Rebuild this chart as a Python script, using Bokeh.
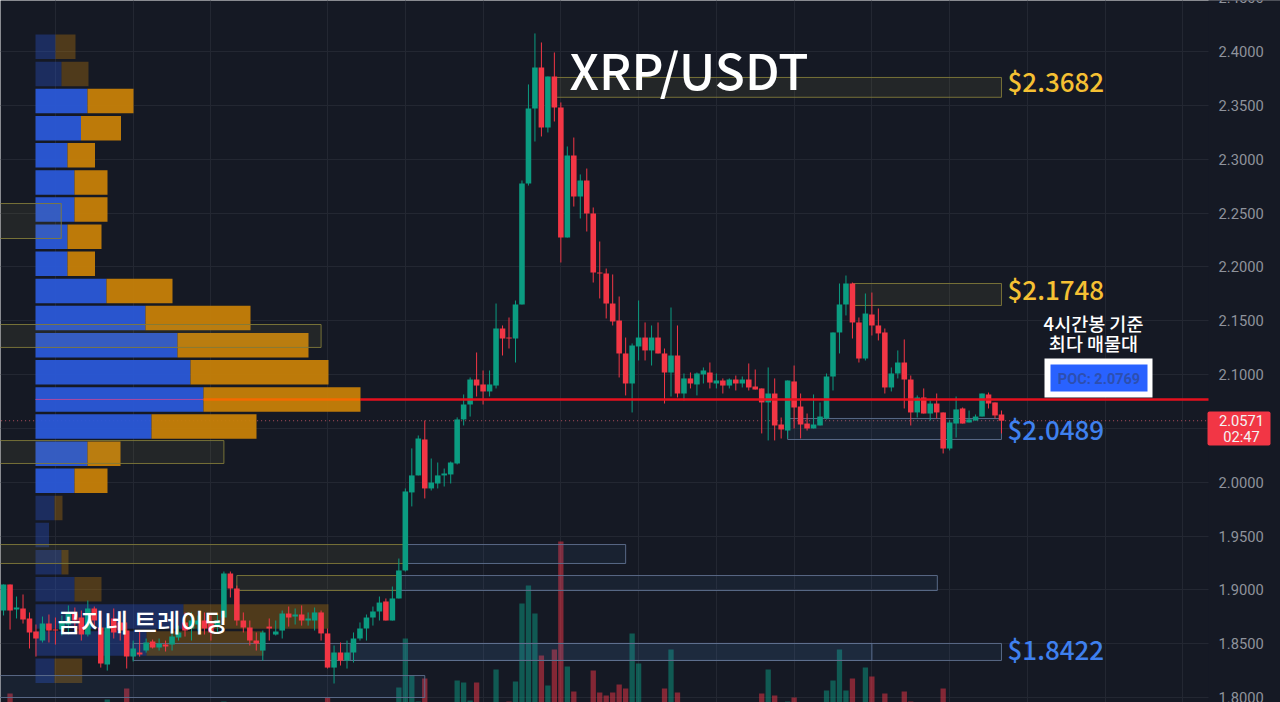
from bokeh.plotting import figure
from bokeh.models import Range1d, LinearAxis, FixedTicker, NumeralTickFormatter
from bokeh.core.properties import value
from bokeh.embed import file_html
from bokeh.resources import INLINE

BG = "#151924"
UP = "#0b9c81"
DOWN = "#f23645"
FONT_KR = "Noto Sans CJK KR"
FONT_MED = "Noto Sans CJK KR Medium"
FONT_NUM = "Roboto"

# candles: [open, high, low, close]
candles = [
 [1.8808,1.9050,1.8762,1.9050],[1.9050,1.9050,1.8631,1.8808],[1.8817,1.8938,1.8734,1.8836],[1.8827,1.8957,1.8687,1.8724],
 [1.8734,1.8790,1.8455,1.8604],[1.8613,1.8678,1.8380,1.8548],[1.8529,1.8752,1.8511,1.8687],[1.8687,1.8771,1.8511,1.8622],
 [1.8631,1.8743,1.8492,1.8622],[1.8631,1.8762,1.8576,1.8696],[1.8678,1.8855,1.8585,1.8790],[1.8780,1.8836,1.8622,1.8715],
 [1.8743,1.8808,1.8529,1.8585],[1.8585,1.8901,1.8567,1.8827],[1.8827,1.8845,1.8641,1.8715],[1.8650,1.8734,1.8278,1.8315],
 [1.8306,1.8697,1.8250,1.8650],[1.8734,1.8827,1.8548,1.8604],[1.8697,1.8762,1.8529,1.8622],[1.8622,1.8697,1.8269,1.8380],
 [1.8380,1.8529,1.8334,1.8455],[1.8417,1.8622,1.8380,1.8399],[1.8436,1.8548,1.8417,1.8511],[1.8520,1.8538,1.8455,1.8464],
 [1.8464,1.8548,1.8436,1.8501],[1.8492,1.8529,1.8427,1.8473],[1.8492,1.8622,1.8436,1.8566],[1.8557,1.8668,1.8529,1.8604],
 [1.8697,1.8790,1.8566,1.8622],[1.8641,1.8790,1.8529,1.8715],[1.8678,1.8762,1.8622,1.8715],[1.8715,1.8790,1.8585,1.8641],
 [1.8687,1.8762,1.8529,1.8604],[1.8659,1.8771,1.8604,1.8715],[1.8743,1.9170,1.8715,1.9152],[1.9152,1.9170,1.8929,1.9012],
 [1.9012,1.9040,1.8668,1.8715],[1.8715,1.8790,1.8604,1.8650],[1.8650,1.8715,1.8483,1.8529],[1.8529,1.8604,1.8436,1.8501],
 [1.8436,1.8622,1.8343,1.8604],[1.8659,1.8734,1.8529,1.8641],[1.8585,1.8715,1.8576,1.8613],[1.8622,1.8808,1.8548,1.8780],
 [1.8780,1.8845,1.8659,1.8743],[1.8752,1.8827,1.8678,1.8771],[1.8771,1.8855,1.8668,1.8715],[1.8715,1.8790,1.8668,1.8734],
 [1.8715,1.8836,1.8622,1.8790],[1.8790,1.8808,1.8529,1.8595],[1.8595,1.8641,1.8269,1.8278],[1.8278,1.8483,1.8130,1.8418],
 [1.8418,1.8511,1.8297,1.8343],[1.8343,1.8529,1.8269,1.8418],[1.8418,1.8604,1.8325,1.8548],[1.8548,1.8697,1.8529,1.8641],
 [1.8641,1.8771,1.8529,1.8743],[1.8743,1.8845,1.8668,1.8799],[1.8799,1.8938,1.8715,1.8882],[1.8892,1.8920,1.8715,1.8715],
 [1.8715,1.9031,1.8715,1.8920],[1.8920,1.9291,1.8920,1.9180],[1.9180,1.9942,1.9170,1.9914],[1.9905,2.0314,1.9775,2.0063],
 [2.0063,2.0434,2.0063,2.0406],[2.0397,2.0573,1.9849,1.9942],[1.9942,2.0220,1.9923,1.9997],[1.9988,2.0183,1.9942,2.0063],
 [2.0063,2.0127,1.9960,2.0081],[2.0072,2.0192,1.9988,2.0183],[2.0174,2.0602,2.0165,2.0583],[2.0583,2.0815,2.0527,2.0722],
 [2.0722,2.0973,2.0610,2.0954],[2.0954,2.1205,2.0796,2.0898],[2.0908,2.1038,2.0722,2.0843],[2.0843,2.1038,2.0796,2.0908],
 [2.0898,2.1660,2.0871,2.1428],[2.1428,2.1456,2.1177,2.1335],[2.1344,2.1530,2.1242,2.1335],[2.1335,2.1688,2.1112,2.1651],
 [2.1651,2.2803,2.1651,2.2775],[2.2775,2.3695,2.2756,2.3472],[2.3472,2.4169,2.3165,2.3853],[2.3853,2.4085,2.3212,2.3295],
 [2.3295,2.3769,2.3249,2.3769],[2.3769,2.3992,2.3351,2.3481],[2.3481,2.3528,2.2041,2.2273],[2.2273,2.3119,2.2273,2.3035],
 [2.3035,2.3202,2.2561,2.2654],[2.2654,2.2859,2.2450,2.2803],[2.2803,2.2914,2.2329,2.2496],[2.2496,2.2552,2.1855,2.1948],
 [2.1948,2.2236,2.1707,2.1939],[2.1939,2.1985,2.1521,2.1660],[2.1660,2.1930,2.1456,2.1493],[2.1502,2.1725,2.0973,2.1196],
 [2.1196,2.1344,2.0806,2.0917],[2.0917,2.1289,2.0648,2.1270],[2.1261,2.1688,2.1131,2.1344],[2.1344,2.1484,2.1131,2.1224],
 [2.1224,2.1456,2.1084,2.1344],[2.1344,2.1484,2.1196,2.1196],[2.1196,2.1242,2.0731,2.1019],[2.1019,2.1623,2.0796,2.1177],
 [2.1177,2.1456,2.0787,2.0824],[2.0824,2.1010,2.0759,2.0964],[2.0964,2.1019,2.0871,2.0917],[2.0908,2.1019,2.0806,2.1010],
 [2.1001,2.1066,2.0917,2.1038],[2.1019,2.1112,2.0871,2.0926],[2.0917,2.1010,2.0871,2.0945],[2.0945,2.0964,2.0824,2.0898],
 [2.0898,2.0964,2.0871,2.0954],[2.0954,2.0991,2.0852,2.0917],[2.0917,2.0982,2.0880,2.0954],[2.0954,2.1103,2.0852,2.0880],
 [2.0889,2.1047,2.0861,2.0861],[2.0871,2.0871,2.0453,2.0741],[2.0741,2.1066,2.0388,2.0824],[2.0824,2.0964,2.0388,2.0527],
 [2.0536,2.0601,2.0406,2.0490],[2.0480,2.0945,2.0406,2.0945],[2.0936,2.1084,2.0499,2.0694],[2.0703,2.0824,2.0406,2.0536],
 [2.0545,2.0638,2.0480,2.0499],[2.0499,2.0815,2.0499,2.0536],[2.0527,2.0741,2.0527,2.0610],[2.0592,2.1010,2.0583,2.0982],
 [2.0982,2.1391,2.0852,2.1391],[2.1391,2.1846,2.1196,2.1651],[2.1651,2.1920,2.1549,2.1846],[2.1846,2.1855,2.1335,2.1484],
 [2.1484,2.1530,2.1112,2.1149],[2.1149,2.1753,2.1131,2.1567],[2.1558,2.1762,2.1363,2.1456],[2.1456,2.1614,2.1317,2.1382],
 [2.1391,2.1428,2.0824,2.0880],[2.0880,2.1066,2.0843,2.1010],[2.1010,2.1224,2.0964,2.1112],[2.1112,2.1326,2.0685,2.0954],
 [2.0954,2.0991,2.0527,2.0648],[2.0648,2.0806,2.0601,2.0787],[2.0787,2.0871,2.0638,2.0638],[2.0638,2.0759,2.0573,2.0731],
 [2.0731,2.0824,2.0592,2.0648],[2.0648,2.0648,2.0267,2.0313],[2.0313,2.0573,2.0295,2.0555],[2.0545,2.0796,2.0415,2.0676],
 [2.0685,2.0694,2.0545,2.0545],[2.0555,2.0666,2.0555,2.0583],[2.0573,2.0629,2.0573,2.0610],[2.0610,2.0824,2.0610,2.0824],
 [2.0815,2.0833,2.0685,2.0731],[2.0741,2.0741,2.0592,2.0620],[2.0629,2.0666,2.0453,2.0571],
]

# volume: only the bars that reach into the visible part of the pane
volume_bar = [1,16,19,34,50,61,62,63,64,65,70,71,72,73,76,78,79,80,81,82,83,84,85,86,87,88,91,92,93,94,95,96,97,98,
              102,103,104,117,118,119,121,122,127,128,129,130,131,133,134,136,139,140,145]
volume = [9,3,14,1,5,15,64,27,1,24,22,20,2,20,33,1,21,99,117,89,47,17,53,161,36,11,32,10,7,10,18,14,69,39,
          14,53,10,9,33,7,1,5,12,22,53,12,24,35,26,9,11,1,14]

# volume profile
vp_price = [2.4045,2.3793,2.3541,2.3289,2.3037,2.2785,2.2533,2.2281,2.2029,2.1777,2.1525,2.1273,
            2.1021,2.0769,2.0517,2.0265,2.0013,1.9761,1.9509,1.9257,1.9005,1.8753,1.8501,1.8249]
vp_buy  = [20,26,52,45.5,32,39,39,32,32,71,110,142,155,168,116,52,39,19,13.5,26,39,148,111,19]
vp_sell = [20,27,46,40,27.5,33,33,34,27.5,66,105,131,138,157,105,33,33,8,0,7,27,145,117,27.7]
vp_alpha = [.33,.33,.95,.95,.95,.95,.95,.95,.95,.95,.95,.95,.95,.95,.95,.95,.95,.33,.33,.33,.33,.33,.33,.33]

# zones: start bar, end bar, high, low
yellow_zones = [(85,154,2.3760,2.3576),(131,154,2.1846,2.1642),(-5,8.9,2.2589,2.2264),(-5,49,2.1465,2.1252),
                (-5,34,2.0387,2.0174),(-5,62,1.9421,1.9245),(36,61.3,1.9133,1.8994)]
blue_zones = [(62,96,1.9421,1.9245),(61.3,144.1,1.9133,1.8994),(20,134,1.8502,1.8344),(53.5,154,1.8502,1.8344),
              (121,154,2.0592,2.0397),(-5,65,1.8204,1.8000)]

poc_price = 2.0769
last_price = 2.0571
price_ticks = [1.80,1.85,1.90,1.95,2.00,2.10,2.15,2.20,2.25,2.30,2.35,2.40]
grid_ticks = [1.80,1.85,1.90,1.95,2.00,2.05,2.10,2.15,2.20,2.25,2.30,2.35,2.40]
time_ticks = [8,20,32,50,62,74,86,98,110,122,134,146,158,170,182]
scale_edge = 185.95

p = figure(width=1280, height=702, output_backend="svg", toolbar_location=None,
           x_range=Range1d(-0.475, 197.06), y_range=Range1d(1.79535, 2.4475),
           background_fill_color=BG, border_fill_color=BG, outline_line_color=None,
           min_border_left=0, min_border_right=0, min_border_top=0, min_border_bottom=0,
           margin=(0, 0, 0, 0), y_axis_location=None, x_axis_location=None)
p.extra_x_ranges = {"profile": Range1d(-35, 1245), "pxx": Range1d(0, 1280)}
p.extra_y_ranges = {"vol": Range1d(0, 702), "pxy": Range1d(702, 0)}

axis = LinearAxis(ticker=FixedTicker(ticks=price_ticks), formatter=NumeralTickFormatter(format="0.0000"),
                  fixed_location=scale_edge,
                  axis_line_color=None, major_tick_line_color=None, minor_tick_line_color=None,
                  major_tick_out=0, major_tick_in=0, major_label_standoff=10,
                  major_label_text_color="#8f939c", major_label_text_font=FONT_NUM,
                  major_label_text_font_size="14.7px")
p.add_layout(axis, "right")

p.xgrid.ticker = FixedTicker(ticks=time_ticks)
p.ygrid.ticker = FixedTicker(ticks=grid_ticks)
p.grid.grid_line_color = "#232732"
p.grid.grid_line_width = 1

# price scale background covers the grid
p.quad(left=[1208], right=[1280], top=[-5], bottom=[710], x_range_name="pxx", y_range_name="pxy",
       fill_color=BG, line_color=None)

# volume
vol_up = [candles[b][3] >= candles[b][0] for b in volume_bar]
p.vbar(x=volume_bar, top=volume, bottom=0, width=0.82, y_range_name="vol",
       fill_color=[UP if u else DOWN for u in vol_up], fill_alpha=[.5 if u else .5 for u in vol_up], line_color=None)

# last price line
n = len(candles)
p.line(x=[-1, scale_edge], y=[last_price, last_price], line_color="#d05a6a", line_alpha=.85, line_width=1, line_dash="1 3")

# volume profile
h = 0.0228
p.hbar(y=vp_price, left=0, right=vp_buy, height=h, x_range_name="profile",
       fill_color="#2a58d8", fill_alpha=vp_alpha, line_color=None)
p.hbar(y=vp_price, left=vp_buy, right=[a + b for a, b in zip(vp_buy, vp_sell)], height=h, x_range_name="profile",
       fill_color="#c67f08", fill_alpha=vp_alpha, line_color=None)

# zones
def zones(z, line, fill, fa):
    p.quad(left=[r[0] for r in z], right=[r[1] for r in z], top=[r[2] for r in z], bottom=[r[3] for r in z],
           fill_color=fill, fill_alpha=fa, line_color=line, line_alpha=.9, line_width=1)
zones(yellow_zones, "#817a3a", "#a8a050", .10)
zones(blue_zones, "#5f7190", "#4f86d0", .08)

# candles
idx = list(range(n))
col = [UP if c[3] >= c[0] else DOWN for c in candles]
p.segment(x0=idx, x1=idx, y0=[c[1] for c in candles], y1=[c[2] for c in candles], line_color=col, line_width=1)
p.vbar(x=idx, top=[max(c[0], c[3]) for c in candles], bottom=[min(c[0], c[3]) for c in candles], width=0.86,
       fill_color=col, line_color=None)

# POC line
poc_i = vp_price.index(poc_price)
b, t = vp_buy[poc_i], vp_buy[poc_i] + vp_sell[poc_i]
p.line(x=[0, b], y=[poc_price, poc_price], x_range_name="profile", line_color="#b04aa0", line_width=1)
p.line(x=[b, t], y=[poc_price, poc_price], x_range_name="profile", line_color="#f56a00", line_width=2.5)
p.line(x=[t, 1173], y=[poc_price, poc_price], x_range_name="profile", line_color="#e5101e", line_width=2.5)

# POC badge
p.quad(left=[1044], right=[1152], top=[358], bottom=[397], x_range_name="pxx", y_range_name="pxy",
       fill_color="#ffffff", line_color=None)
p.quad(left=[1050], right=[1147], top=[364], bottom=[391], x_range_name="pxx", y_range_name="pxy",
       fill_color="#2962ff", line_color=None)
# last price tag
p.quad(left=[1207], right=[1270], top=[411], bottom=[445], x_range_name="pxx", y_range_name="pxy",
       fill_color=DOWN, line_color=None, border_radius=2)

def txt(s, x, y, size, color, font=FONT_KR, align="left", weight="normal"):
    p.text(x=[x], y=[y], text=[s], x_range_name="pxx", y_range_name="pxy", text_color=color,
           text_font=value(font), text_font_size=size, text_align=align, text_baseline="middle",
           text_font_style=weight)

txt("POC: 2.0769", 1098.5, 378.5, "14.5px", "#2d4fb0", FONT_NUM, "center", "bold")
txt("XRP/USDT", 569, 68, "49.5px", "#ffffff", FONT_MED)
txt("$2.3682", 1007, 80, "26px", "#f5c033", FONT_MED)
txt("$2.1748", 1007, 288, "26px", "#f5c033", FONT_MED)
txt("$2.0489", 1007, 428, "26px", "#3f80ee", FONT_MED)
txt("$1.8422", 1007, 648, "26px", "#3f80ee", FONT_MED)
txt("4시간봉 기준", 1093, 322, "18.5px", "#ffffff", FONT_MED, align="center")
txt("최다 매물대", 1093, 342, "18.5px", "#ffffff", FONT_MED, align="center")
txt("곰지네 트레이딩", 57, 620, "25.5px", "#ffffff", FONT_MED)
txt("2.4500", 1218, -3, "14.7px", "#8f939c", FONT_NUM)
txt("2.0571", 1241, 420, "14.7px", "#f3f3f3", FONT_NUM, "center")
txt("02:47", 1241, 436, "14.7px", "#f3f3f3", FONT_NUM, "center")

open("out.html", "w").write(file_html(p, INLINE))
